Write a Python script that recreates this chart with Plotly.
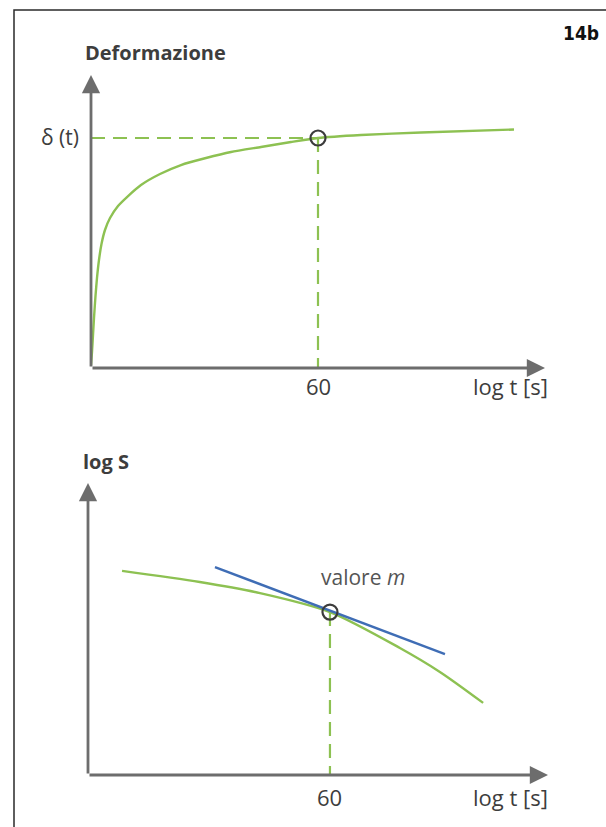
import plotly.graph_objects as go

# ---------------- data (abstract units, axis range 0..10) ----------------
# Top panel: deformation vs log t
top_x = [0.0, 0.022, 0.044, 0.066, 0.099, 0.132, 0.176, 0.231, 0.308, 0.419, 0.595, 0.793, 1.101, 1.52,
         1.982, 2.533, 3.084, 3.744, 4.405, 5.0, 5.947, 7.269, 9.317]
top_y = [0.1, 0.546, 1.126, 1.706, 2.457, 3.072, 3.686, 4.232, 4.71, 5.119, 5.529, 5.836, 6.246, 6.621,
         6.928, 7.167, 7.372, 7.543, 7.713, 7.85, 7.952, 8.038, 8.14]
top_mark_x = 5.0
top_mark_y = 7.85
top_tick_label = "60"

# Bottom panel: log S vs log t
bot_x = [0.74, 2.43, 3.74, 5.26, 6.78, 7.65, 8.59]
bot_y = [6.99, 6.61, 6.23, 5.58, 4.35, 3.53, 2.47]
tan_x = [2.76, 7.76]
tan_y = [7.12, 4.14]
bot_mark_x = 5.26
bot_mark_y = 5.58
bot_tick_label = "60"

W, H = 606, 827
GREEN = "#8dc152"
BLUE = "#3f6db5"
AXIS = "#6d6d6d"
TEXT = "#3d3d3d"
FONT = "Open Sans, Noto Sans, sans-serif"
DASH = "14px,8px"


def px(x):
    return x / W


def py(y):
    return 1 - y / H


fig = go.Figure()

# top panel
fig.add_trace(go.Scatter(x=[0, top_mark_x], y=[top_mark_y, top_mark_y], mode="lines",
                         line=dict(color=GREEN, width=2.2, dash=DASH), xaxis="x", yaxis="y"))
fig.add_trace(go.Scatter(x=[top_mark_x, top_mark_x], y=[top_mark_y, 0], mode="lines",
                         line=dict(color=GREEN, width=2.2, dash=DASH), xaxis="x", yaxis="y"))
fig.add_trace(go.Scatter(x=top_x, y=top_y, mode="lines", line=dict(color=GREEN, width=2.4, shape="spline", smoothing=0.6),
                         xaxis="x", yaxis="y"))
fig.add_trace(go.Scatter(x=[top_mark_x], y=[top_mark_y], mode="markers",
                         marker=dict(symbol="circle-open", size=15, color="#3c3c3c", line=dict(width=2.2, color="#3c3c3c")),
                         xaxis="x", yaxis="y"))

# bottom panel
fig.add_trace(go.Scatter(x=[bot_mark_x, bot_mark_x], y=[bot_mark_y, 0], mode="lines",
                         line=dict(color=GREEN, width=2.2, dash=DASH), xaxis="x2", yaxis="y2"))
fig.add_trace(go.Scatter(x=bot_x, y=bot_y, mode="lines", line=dict(color=GREEN, width=2.4, shape="spline", smoothing=0.8),
                         xaxis="x2", yaxis="y2"))
fig.add_trace(go.Scatter(x=tan_x, y=tan_y, mode="lines", line=dict(color=BLUE, width=2.4),
                         xaxis="x2", yaxis="y2"))
fig.add_trace(go.Scatter(x=[bot_mark_x], y=[bot_mark_y], mode="markers",
                         marker=dict(symbol="circle-open", size=15, color="#3c3c3c", line=dict(width=2.2, color="#3c3c3c")),
                         xaxis="x2", yaxis="y2"))

ax_common = dict(range=[0, 10], showgrid=False, zeroline=False, showticklabels=False, showline=False, ticks="")
fig.update_layout(
    width=W, height=H, margin=dict(l=0, r=0, t=0, b=0),
    paper_bgcolor="white", plot_bgcolor="rgba(0,0,0,0)", showlegend=False,
    xaxis=dict(domain=[px(91), px(545)], anchor="y", **ax_common),
    yaxis=dict(domain=[py(368), py(75)], anchor="x", **ax_common),
    xaxis2=dict(domain=[px(88), px(548)], anchor="y2", **ax_common),
    yaxis2=dict(domain=[py(775), py(483)], anchor="x2", **ax_common),
)

# frame border (left and top visible)
fig.add_shape(type="rect", xref="paper", yref="paper", x0=px(14), x1=px(640), y0=py(860), y1=py(10),
              line=dict(color="#2a2a2a", width=1.5), layer="below")

# axis arrows
arrow = dict(text="", showarrow=True, arrowhead=2, arrowsize=1.3, arrowwidth=2.8, arrowcolor=AXIS)
fig.add_annotation(x=10, y=0, ax=0, ay=0, xref="x", yref="y", axref="x", ayref="y", **arrow)
fig.add_annotation(x=0, y=10, ax=0, ay=0, xref="x", yref="y", axref="x", ayref="y", **arrow)
fig.add_annotation(x=10, y=0, ax=0, ay=0, xref="x2", yref="y2", axref="x2", ayref="y2", **arrow)
fig.add_annotation(x=0, y=10, ax=0, ay=0, xref="x2", yref="y2", axref="x2", ayref="y2", **arrow)

# texts
f = dict(family=FONT, size=22, color=TEXT, weight=500)
fig.add_annotation(x=px(83), y=py(52), xref="paper", yref="paper", xanchor="left", yanchor="middle",
                   text="<b>Deformazione</b>", showarrow=False, font=dict(family=FONT, size=20, color=TEXT))
fig.add_annotation(x=px(81), y=py(137), xref="paper", yref="paper", xanchor="right", yanchor="middle",
                   text="δ (t)", showarrow=False, font=dict(family=FONT, size=21, color=TEXT, weight=500))
fig.add_annotation(x=top_mark_x, y=py(386), xref="x", yref="paper", xanchor="center", yanchor="middle",
                   text=top_tick_label, showarrow=False, font=f)
fig.add_annotation(x=px(550), y=py(386), xref="paper", yref="paper", xanchor="right", yanchor="middle",
                   text="log t [s]", showarrow=False, font=f)
fig.add_annotation(x=px(81), y=py(461), xref="paper", yref="paper", xanchor="left", yanchor="middle",
                   text="<b>log S</b>", showarrow=False, font=dict(family=FONT, size=20, color=TEXT))
fig.add_annotation(x=bot_mark_x, y=py(797), xref="x2", yref="paper", xanchor="center", yanchor="middle",
                   text=bot_tick_label, showarrow=False, font=f)
fig.add_annotation(x=px(550), y=py(797), xref="paper", yref="paper", xanchor="right", yanchor="middle",
                   text="log t [s]", showarrow=False, font=f)
fig.add_annotation(x=px(363), y=py(577), xref="paper", yref="paper", xanchor="center", yanchor="middle",
                   text="valore <i>m</i>", showarrow=False, font=dict(family=FONT, size=21, color="#555555", weight=500))
fig.add_annotation(x=px(601), y=py(33), xref="paper", yref="paper", xanchor="right", yanchor="middle",
                   text="<b>14b</b>", showarrow=False,
                   font=dict(family="Liberation Sans Narrow, DejaVu Sans Condensed, Arial Narrow, sans-serif", size=19, color="#111111"))

fig.write_html("out.html", config={"displayModeBar": False},
               post_script="document.body.style.margin='0px';document.body.style.overflow='hidden';")
